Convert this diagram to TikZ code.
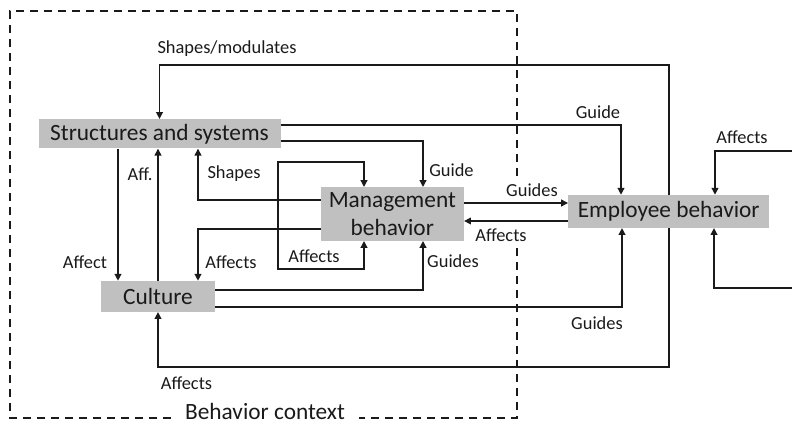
\documentclass[tikz,border=0pt]{standalone}
\usepackage{fontspec}
\setmainfont{Carlito}
\usetikzlibrary{arrows.meta}
\definecolor{boxgray}{HTML}{C0C0C0}
\definecolor{ink}{HTML}{1A1A1A}
\tikzset{
  box/.style={fill=boxgray, inner sep=0pt, align=center, text=ink,
              font=\fontsize{17.5}{21.5}\selectfont},
  lbl/.style={inner sep=0pt, text=ink, font=\fontsize{13.8}{16}\selectfont},
  arr/.style={draw=ink, line width=1.35pt, -{Triangle[length=5.2pt,width=5pt]}},
  arrboth/.style={draw=ink, line width=1.35pt,
                  {Triangle[length=5.2pt,width=5pt]}-{Triangle[length=5.2pt,width=5pt]}},
  ctx/.style={draw=ink, line width=1.25pt, dash pattern=on 6pt off 4.5pt}
}
\begin{document}
\begin{tikzpicture}[x=0.75pt, y=-0.75pt]
\useasboundingbox (0,0) rectangle (792,425);

% behaviour context frame
\draw[ctx] (171,418) -| (10,11) -| (517,177);
\draw[ctx] (517,248) |- (359,418);
\node[lbl, font=\fontsize{17.5}{21}\selectfont] (ctxlbl) at (265,411) {Behavior context};

% boxes
\node[box, minimum width=181.5pt, minimum height=21.8pt] (S) at (159.5,133.8) {Structures and systems};
\node[box, minimum width=107.2pt, minimum height=40pt] (M) at (392.3,214) {Management\\behavior};
\node[box, minimum width=150.5pt, minimum height=24.5pt] (E) at (668.7,211.4) {Employee behavior};
\node[box, minimum width=85.5pt, minimum height=23pt] (C) at (158,296.4) {Culture};

% external inputs on the right
\coordinate (inA) at (795,151);
\coordinate (inB) at (795,288);

% connectors
\draw[arr] (E.north) -- (E.north |- 0,65) -| (S.north);
\draw[arr] (S.east |- 0,125) -| (E.north -| 621,0);
\draw[arr] (S.east |- 0,141) -| (M.north -| 423,0);
\draw[arr] (M.west |- 0,200) -| (S.south -| 198,0);
\draw[arrboth] (M.north -| 364,0) |- (278,162) -- (278,269) -| (M.south -| 364,0);
\draw[arr] (M.west |- 0,229) -| (C.north -| 198,0);
\draw[arr] (S.south -| 118,0) -- (C.north -| 118,0);
\draw[arr] (C.north -| 158,0) -- (S.south -| 158,0);
\draw[arr] (C.east |- 0,290) -| (M.south -| 423,0);
\draw[arr] (C.east |- 0,307) -| (E.south -| 622,0);
\draw[arr] (E.south) -- (E.south |- 0,367) -| (C.south);
\draw[arr] (M.east |- 0,203) -- (E.west |- 0,203);
\draw[arr] (E.west |- 0,221) -- (M.east |- 0,221);
\draw[arr] (inA) -| (E.north -| 715,0);
\draw[arr] (inB) -| (E.south -| 714,0);

% connector labels
\node[lbl] (l1) at (227,49) {Shapes/modulates};
\node[lbl] (l2) at (598,112) {Guide};
\node[lbl] (l3) at (451.5,170.5) {Guide};
\node[lbl] (l4) at (234,174) {Shapes};
\node[lbl] (l5) at (140,174) {Aff.};
\node[lbl] (l6) at (314,256) {Affects};
\node[lbl] (l7) at (231,262) {Affects};
\node[lbl] (l8) at (85,262) {Affect};
\node[lbl] (l9) at (453,261.5) {Guides};
\node[lbl] (l10) at (597,323.5) {Guides};
\node[lbl] (l11) at (186.5,383) {Affects};
\node[lbl] (l12) at (532,190.5) {Guides};
\node[lbl] (l13) at (501,235) {Affects};
\node[lbl] (l14) at (742,137) {Affects};
\end{tikzpicture}
\end{document}
